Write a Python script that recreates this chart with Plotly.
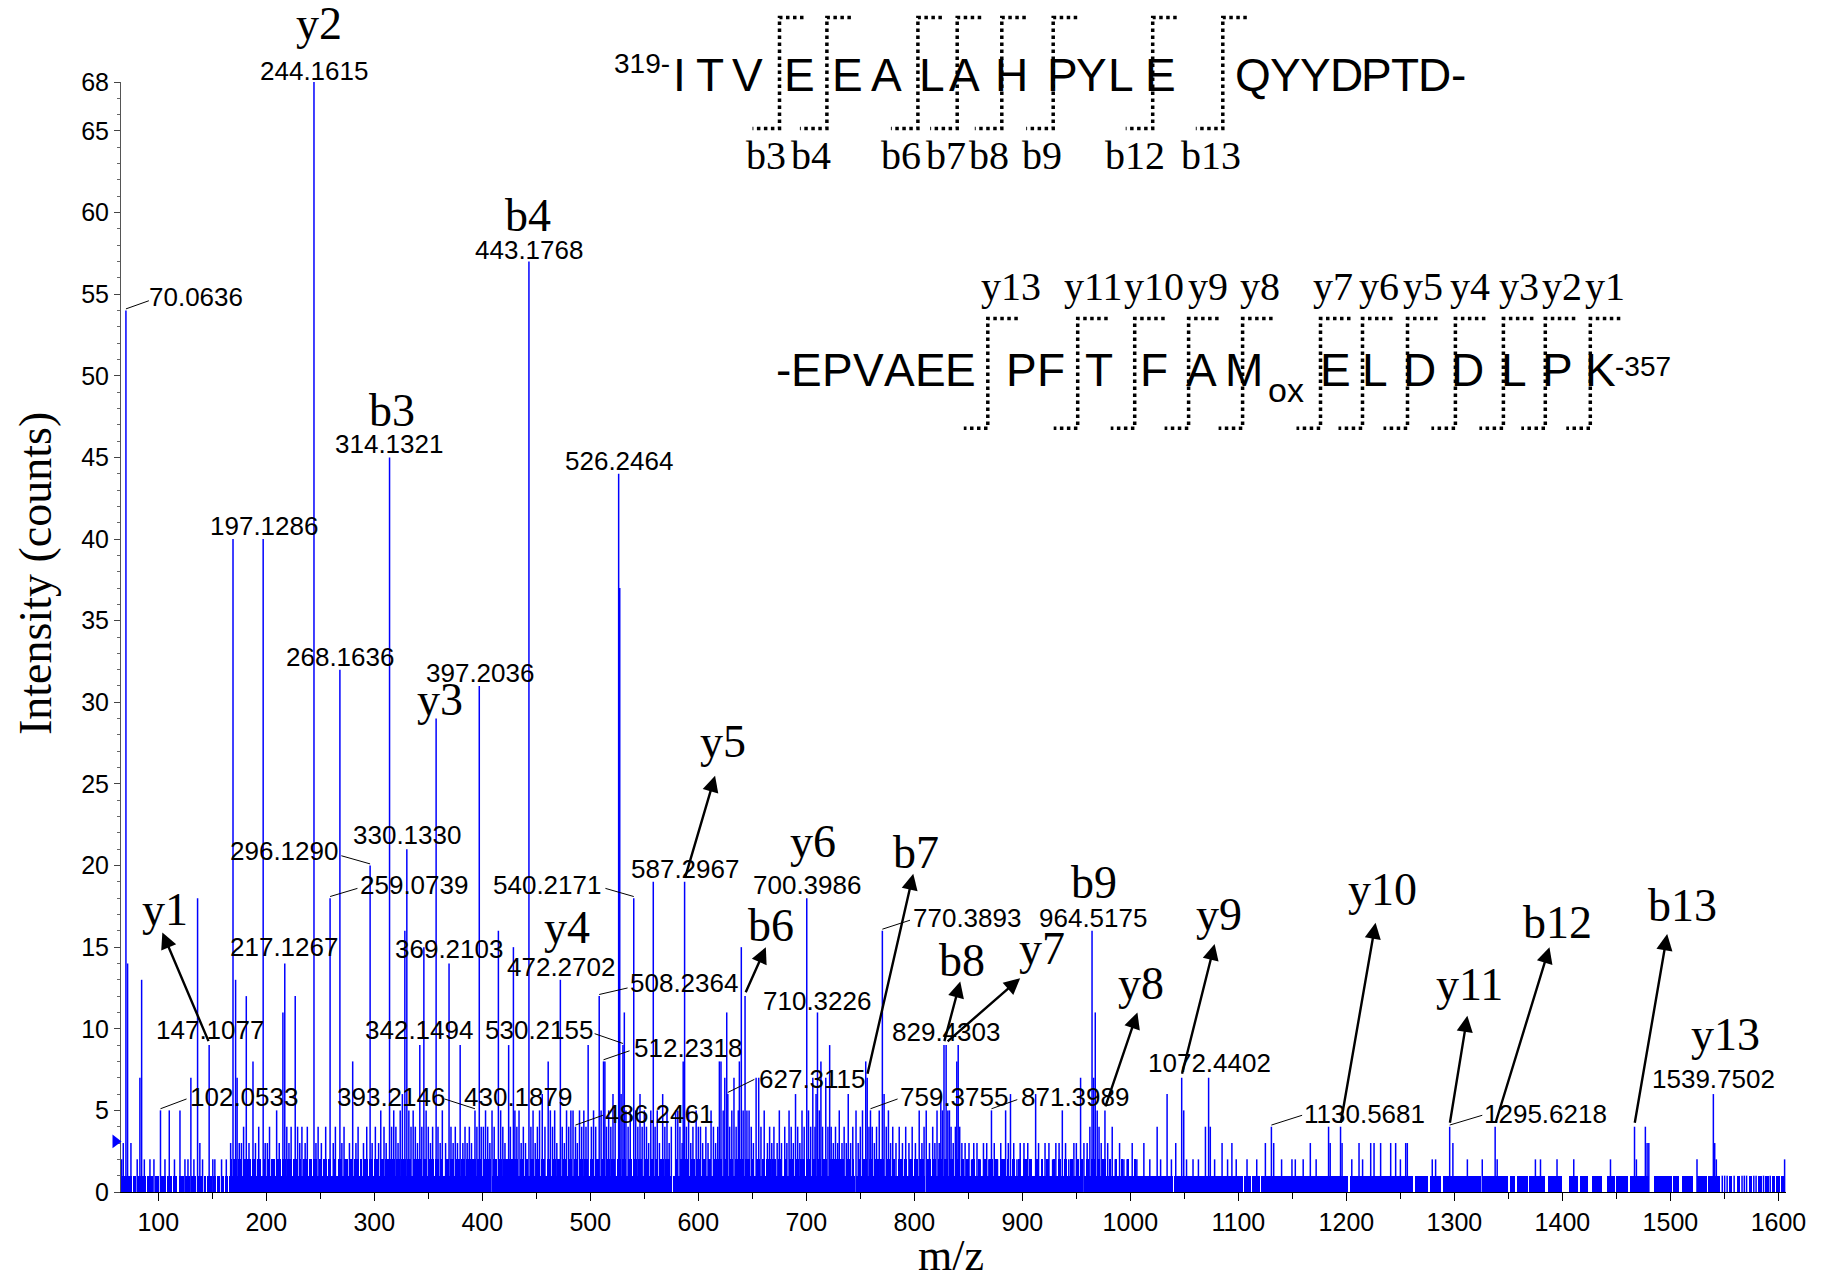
import plotly.graph_objects as go

# ---------------------------------------------------------------
# Centroided MS/MS peaks: (m/z, counts)
# ---------------------------------------------------------------
spectrum = [
    (66.1, 2), (67.6, 3), (70.0636, 54), (71.6, 14), (74.7, 3), (80.5, 2), (83.0, 7),
    (84.6, 13), (87.1, 2), (92.3, 2), (96.0, 2), (102.0533, 5), (106.2, 2), (110.2, 5),
    (115.0, 2), (120.1, 5), (124.7, 2), (127.5, 2), (130.2, 7), (133.0, 2), (136.4, 18),
    (138.5, 3), (141.0, 2), (147.1077, 9), (150.5, 2), (152.4, 2), (158.6, 2), (163.0, 2),
    (167.0, 3), (169.2, 40), (171.6, 13), (173.0, 7), (175.0, 3), (177.0, 3), (179.0, 4),
    (181.5, 12), (184.0, 3), (187.7, 8), (190.0, 3), (193.0, 4), (197.1286, 40), (199.0, 3),
    (201.0, 3), (203.0, 4), (209.6, 5), (212.0, 3), (215.4, 11), (217.1267, 14), (219.0, 4),
    (221.0, 3), (223.0, 4), (226.8, 12), (229.0, 4), (231.0, 3), (233.0, 4), (236.0, 3),
    (238.0, 4), (244.1615, 68), (246.0, 3), (248.0, 4), (251.0, 3), (255.0, 4), (259.0739, 18),
    (262.0, 3), (264.0, 4), (268.1636, 32), (270.0, 3), (272.0, 4), (277.0, 3), (280.0, 8),
    (283.0, 3), (285.0, 4), (290.0, 3), (293.0, 4), (296.1290, 20), (298.0, 3), (301.0, 4),
    (304.0, 3), (306.0, 5), (309.0, 4), (311.0, 3), (314.1321, 45), (316.0, 4), (318.0, 5),
    (320.0, 4), (322.0, 3), (324.0, 5), (326.0, 6), (328.3, 16), (330.1330, 21), (332.0, 5),
    (334.0, 4), (336.0, 5), (338.0, 4), (340.0, 3), (342.1494, 9), (344.0, 4), (345.9, 15),
    (348.0, 5), (350.0, 4), (352.0, 3), (354.0, 4), (357.25, 29), (359.0, 4), (361.0, 3),
    (363.0, 5), (366.0, 3), (369.2103, 14), (371.0, 4), (373.0, 3), (375.0, 4), (377.0, 3),
    (379.5, 9), (382.0, 3), (384.0, 4), (386.0, 3), (388.0, 4), (390.0, 3), (393.2146, 5),
    (395.0, 4), (397.2036, 31), (399.0, 4), (401.0, 4), (403.0, 5), (405.0, 4), (407.0, 3),
    (409.0, 5), (411.0, 4), (414.9, 16), (417.0, 5), (419.0, 4), (421.0, 3), (424.4, 9),
    (426.0, 4), (428.8, 15), (430.1879, 5), (432.0, 4), (434.0, 5), (436.0, 3), (438.0, 4),
    (440.0, 3), (443.1768, 57), (445.0, 4), (447.0, 5), (449.0, 3), (451.0, 4), (453.0, 5),
    (455.5, 6), (458.0, 4), (461.0, 8), (463.0, 5), (465.0, 4), (467.0, 5), (469.0, 3),
    (472.2702, 13), (474.0, 4), (476.0, 3), (478.0, 5), (480.0, 4), (482.0, 5), (484.0, 5),
    (486.2461, 4), (488.0, 3), (490.0, 5), (492.0, 4), (494.0, 5), (496.0, 4), (498.0, 9),
    (501.0, 4), (503.0, 5), (505.0, 4), (508.2364, 12), (510.0, 5), (512.2318, 8), (513.5, 8),
    (515.0, 4), (517.0, 5), (519.0, 4), (521.0, 6), (523.0, 5), (526.2464, 44), (527.25, 37),
    (528.5, 6), (530.2155, 9), (531.5, 11), (533.0, 5), (535.0, 4), (537.0, 5), (540.2171, 18),
    (542.0, 5), (544.0, 4), (546.0, 6), (548.0, 4), (550.0, 5), (552.0, 4), (554.0, 3),
    (556.0, 5), (558.3, 19), (560.0, 4), (562.0, 5), (564.0, 3), (567.0, 6), (569.0, 4),
    (571.0, 5), (573.0, 3), (575.0, 4), (579.0, 5), (581.0, 5), (583.0, 4), (585.0, 3),
    (586.0, 8), (587.2967, 19), (589.0, 4), (591.0, 5), (593.0, 3), (595.0, 4), (598.0, 5),
    (600.0, 4), (602.0, 4), (604.0, 3), (607.0, 4), (609.0, 3), (611.8, 5), (614.0, 4),
    (616.0, 3), (618.0, 4), (619.5, 8), (621.0, 8), (623.0, 5), (624.5, 7), (626.3, 11),
    (627.3115, 6), (629.0, 4), (631.0, 5), (633.0, 7), (635.0, 4), (637.0, 5), (638.0, 8),
    (639.8, 15), (641.5, 5), (643.26, 12), (645.0, 5), (647.0, 5), (649.0, 4), (651.0, 3),
    (653.5, 7), (655.9, 7), (658.0, 4), (661.0, 5), (664.0, 3), (666.0, 4), (668.0, 3),
    (670.0, 4), (673.0, 3), (675.0, 5), (677.0, 3), (680.0, 4), (682.0, 3), (684.0, 5),
    (686.0, 4), (688.0, 3), (690.0, 6), (692.0, 4), (694.0, 3), (696.0, 5), (698.0, 4),
    (700.3986, 18), (702.0, 5), (704.0, 4), (706.0, 7), (708.0, 4), (709.0, 6), (710.3226, 11),
    (712.0, 5), (713.5, 8), (715.0, 4), (718.0, 7), (720.0, 4), (721.6, 9), (723.0, 4),
    (725.0, 3), (727.0, 4), (729.0, 3), (730.5, 5), (733.0, 3), (735.0, 4), (737.0, 3),
    (738.8, 6), (741.0, 3), (743.0, 4), (746.0, 5), (748.0, 3), (750.0, 4), (752.0, 5),
    (755.0, 8), (756.35, 7), (758.0, 4), (759.3755, 5), (761.0, 4), (763.0, 3), (765.0, 4),
    (767.5, 5), (770.3893, 16), (772.0, 6), (774.0, 4), (776.0, 5), (778.0, 3), (780.0, 4),
    (783.0, 3), (786.0, 4), (789.0, 3), (792.0, 4), (795.0, 3), (798.0, 4), (801.0, 3),
    (804.5, 5), (807.0, 3), (809.0, 4), (811.0, 5), (814.0, 3), (817.0, 4), (819.0, 3),
    (821.0, 5), (823.0, 3), (824.5, 6), (826.0, 5), (827.45, 9), (829.4303, 9), (831.0, 5),
    (832.5, 5), (834.0, 4), (836.0, 3), (838.0, 4), (839.3, 8), (840.6, 9), (842.0, 4),
    (844.0, 3), (847.0, 3), (850.6, 3), (853.0, 2), (855.0, 3), (858.0, 3), (861.0, 2),
    (864.0, 3), (867.0, 3), (869.0, 2), (871.3989, 5), (874.0, 3), (877.0, 2), (880.0, 3),
    (884.5, 5), (887.0, 3), (889.0, 6), (892.0, 3), (895.0, 2), (898.0, 3), (901.5, 3),
    (905.0, 3), (908.0, 2), (912.3, 6), (915.0, 3), (918.0, 2), (921.0, 3), (924.6, 3),
    (928.0, 2), (931.0, 3), (934.0, 3), (937.0, 5), (940.0, 3), (943.0, 2), (947.7, 3),
    (950.0, 3), (953.9, 7), (957.0, 3), (960.0, 3), (962.5, 4), (964.5175, 16), (966.0, 7),
    (967.5, 11), (969.3, 5), (971.0, 4), (973.0, 3), (976.47, 5), (979.0, 3), (983.2, 4),
    (986.0, 2), (990.0, 3), (994.0, 2), (997.0, 2), (1001.7, 3), (1006.0, 2), (1012.5, 3),
    (1018.0, 2), (1024.8, 4), (1028.0, 2), (1034.0, 6), (1038.0, 2), (1042.0, 3), (1047.51, 7),
    (1049.4, 5), (1052.0, 2), (1058.0, 2), (1063.0, 2), (1069.5, 4), (1072.4402, 7), (1074.0, 4),
    (1078.0, 2), (1084.9, 3), (1090.0, 2), (1094.0, 3), (1098.0, 2), (1108.0, 2), (1117.0, 2),
    (1125.0, 3), (1130.5681, 4), (1132.7, 3), (1140.0, 2), (1149.6, 2), (1152.7, 2), (1160.0, 2),
    (1166.6, 3), (1172.0, 2), (1183.5, 4), (1185.0, 3), (1194.58, 4), (1196.0, 3), (1205.0, 2),
    (1211.7, 3), (1215.0, 2), (1222.5, 3), (1225.6, 3), (1231.7, 3), (1241.0, 3), (1245.6, 3),
    (1250.0, 2), (1254.9, 3), (1256.4, 3), (1279.5, 2), (1282.6, 2), (1295.6218, 4), (1298.6, 3),
    (1312.0, 2), (1325.8, 2), (1337.72, 4), (1339.6, 2), (1375.0, 2), (1379.7, 2), (1395.0, 2),
    (1410.5, 2), (1444.5, 2), (1466.76, 4), (1468.5, 2), (1476.8, 4), (1478.4, 3), (1480.0, 3),
    (1524.6, 2), (1539.7502, 6), (1541.0, 3), (1542.5, 2), (1605.7, 2),
]

# isolated single-count peaks at the high-mass end
single_count_mz = [1548.0, 1550.2, 1552.5, 1559.0, 1566.3, 1568.4, 1570.5, 1577.2,
                   1579.3, 1586.2, 1592.4]

# m/z stretches where the baseline noise fills the 1-count level
noise_floor_1 = [
    (65.6, 75.5), (76.5, 79.0), (80.0, 88.5), (89.5, 95.5), (96.8, 101.0), (102.3, 107.0),
    (108.0, 112.5), (113.5, 117.8), (119.0, 123.5), (124.5, 129.5), (130.5, 135.0),
    (136.0, 140.5), (142.0, 144.5), (145.5, 150.0), (151.0, 153.0), (154.5, 157.0),
    (158.0, 161.0), (162.0, 164.5), (165.5, 215.0), (216.0, 300.0), (301.0, 408.0),
    (409.0, 576.0), (577.0, 660.0), (661.0, 745.0), (746.0, 810.0), (811.0, 956.5),
    (957.5, 1039.8), (1040.6, 1104.0), (1105.0, 1112.0), (1113.0, 1120.0), (1121.0, 1201.5),
    (1203.0, 1262.0), (1263.5, 1275.5), (1277.0, 1288.0), (1289.5, 1325.0), (1326.5, 1350.0),
    (1351.5, 1356.0), (1357.5, 1368.0), (1369.5, 1384.0), (1387.0, 1399.5), (1406.0, 1414.5),
    (1416.0, 1424.0), (1427.5, 1436.5), (1441.0, 1448.5), (1450.0, 1461.0), (1462.5, 1480.0),
    (1484.5, 1501.0), (1502.5, 1507.5), (1511.0, 1521.0), (1525.0, 1533.5), (1535.0, 1546.0),
    (1554.0, 1557.0), (1561.5, 1564.5), (1572.5, 1575.5), (1581.5, 1584.5), (1588.0, 1590.8),
    (1594.0, 1596.8), (1597.5, 1601.5), (1602.0, 1606.0),
]

# m/z stretches where the noise reaches 2 counts
noise_floor_2 = [
    (166.0, 168.5), (169.5, 173.0), (174.0, 176.5), (178.0, 181.0), (182.5, 186.0), (187.0, 189.5),
    (191.0, 195.5), (196.5, 199.0), (200.5, 203.0), (204.5, 208.0), (209.0, 213.5), (215.0, 218.0),
    (219.5, 224.0), (225.0, 228.5), (230.0, 232.5), (234.0, 238.5), (239.5, 242.0), (243.5, 247.0),
    (248.5, 251.0), (252.5, 256.5), (257.5, 260.0), (261.5, 265.0), (266.0, 270.5), (272.0, 275.5),
    (277.0, 280.0), (281.5, 285.5), (286.5, 289.0), (290.5, 294.5), (295.5, 299.0), (300.0, 304.5),
    (305.5, 309.0), (310.0, 313.5), (315.0, 319.5), (320.5, 324.0), (325.0, 329.5), (330.5, 334.0),
    (335.5, 339.5), (340.5, 344.5), (345.5, 349.0), (350.5, 355.0), (356.0, 359.5), (360.5, 364.0),
    (365.5, 369.5), (370.5, 373.5), (375.0, 379.0), (380.5, 384.0), (385.0, 389.5), (390.5, 394.0),
    (395.0, 399.5), (400.5, 404.5), (405.5, 408.0), (409.5, 413.5), (414.5, 418.0), (419.5, 423.5),
    (424.5, 428.5), (429.5, 433.0), (434.5, 438.5), (439.5, 442.5), (444.0, 448.0), (449.5, 452.5),
    (454.0, 458.5), (459.5, 463.0), (464.5, 468.5), (469.5, 473.0), (474.5, 478.0), (479.5, 483.5),
    (484.5, 488.0), (489.5, 493.5), (494.5, 498.0), (499.5, 503.5), (504.5, 508.0), (509.5, 513.5),
    (515.0, 518.5), (519.5, 523.0), (524.5, 528.5), (529.5, 533.0), (534.5, 538.5), (539.5, 543.0),
    (544.5, 548.0), (549.5, 553.5), (555.0, 558.5), (559.5, 563.0), (564.5, 568.5), (569.5, 573.5),
    (578.0, 581.5), (583.0, 586.5), (588.0, 591.5), (593.0, 596.5), (598.0, 601.5), (603.0, 607.5),
    (608.5, 612.0), (613.5, 617.5), (618.5, 622.0), (623.5, 627.5), (628.5, 632.0), (633.5, 637.5),
    (638.5, 642.0), (643.5, 647.5), (648.5, 652.0), (653.5, 657.5), (659.0, 661.5), (663.0, 667.0),
    (668.5, 672.0), (673.5, 677.5), (679.0, 682.5), (684.0, 688.0), (689.5, 693.0), (694.5, 698.5),
    (700.0, 703.5), (705.0, 709.0), (710.5, 714.0), (715.5, 719.5), (721.0, 724.5), (726.0, 730.0),
    (731.5, 735.0), (736.5, 740.5), (742.0, 744.5), (747.5, 751.0), (752.5, 756.5), (758.0, 761.5),
    (763.0, 767.0), (768.5, 772.0), (773.5, 777.0), (779.0, 782.0), (785.0, 788.5), (790.0, 793.0),
    (795.0, 798.5), (800.0, 803.0), (805.0, 808.5), (812.0, 815.5), (817.0, 820.5), (822.0, 826.0),
    (827.5, 831.0), (832.5, 836.5), (838.0, 841.5), (843.0, 846.0), (848.0, 851.0), (853.0, 856.0),
    (858.5, 861.0), (864.0, 867.0), (869.5, 872.5), (875.0, 877.5), (880.0, 883.5), (885.5, 888.0),
    (890.5, 893.5), (896.0, 898.5), (901.0, 904.0), (906.5, 909.0), (911.5, 914.5), (917.0, 919.5),
    (922.0, 925.0), (928.0, 930.5), (933.0, 936.0), (939.0, 941.5), (944.0, 947.0), (950.0, 952.5),
    (955.0, 956.5), (958.5, 962.0), (963.5, 967.0), (969.0, 971.5), (974.0, 977.0), (980.0, 982.5),
    (985.5, 988.0), (991.0, 993.5), (997.0, 999.0), (1003.0, 1005.0),
]

# peaks annotated with their m/z: (peak m/z, label centre m/z, label centre counts)
value_labels = [
    (244.1615, 244.5, 68.7), (443.1768, 443.2, 57.7), (314.1321, 313.2, 45.8),
    (70.0636, 135.0, 54.8), (197.1286, 197.5, 40.8), (526.2464, 526.2, 44.8),
    (268.1636, 268.2, 32.8), (397.2036, 397.5, 31.8), (330.1330, 330.0, 21.9),
    (296.1290, 216.7, 20.9), (259.0739, 336.5, 18.8), (540.2171, 460.0, 18.8),
    (587.2967, 587.4, 19.8), (700.3986, 700.9, 18.8), (217.1267, 216.7, 15.0),
    (369.2103, 369.5, 14.9), (472.2702, 472.9, 13.8), (508.2364, 586.8, 12.8),
    (710.3226, 709.5, 11.7), (147.1077, 147.5, 9.95), (342.1494, 341.5, 9.95),
    (530.2155, 452.5, 9.95), (512.2318, 590.5, 8.8), (829.4303, 829.5, 9.8),
    (1072.4402, 1073.2, 7.9), (627.3115, 705.5, 6.95), (102.0533, 179.5, 5.85),
    (393.2146, 315.5, 5.85), (430.1879, 433.0, 5.85), (759.3755, 837.0, 5.85),
    (871.3989, 949.0, 5.85), (486.2461, 563.3, 4.8), (1130.5681, 1217.0, 4.8),
    (1295.6218, 1384.0, 4.8), (964.5175, 965.6, 16.8), (770.3893, 849.0, 16.8),
    (1539.7502, 1540.0, 6.95),
]

# leader lines from an offset label back to its peak: peak m/z -> (start m/z, start counts)
leaders = {
    70.0636: (91.3, 54.6), 296.1290: (269.5, 20.6), 259.0739: (284.4, 18.6),
    540.2171: (514.0, 18.6), 508.2364: (534.5, 12.5), 530.2155: (504.0, 9.7),
    512.2318: (536.3, 8.65), 627.3115: (651.9, 6.9), 102.0533: (126.2, 5.7),
    393.2146: (365.0, 5.7), 486.2461: (511.7, 4.7), 759.3755: (784.5, 5.7),
    871.3989: (895.3, 5.66), 770.3893: (796.0, 16.65), 1130.5681: (1159.0, 4.7),
    1295.6218: (1325.8, 4.7),
}

# fragment ion assignments: (ion, peak m/z, label centre m/z, label centre counts)
ion_labels = [
    ("y2", 244.1615, 248.9, 71.3), ("b4", 443.1768, 442.0, 59.8), ("b3", 314.1321, 316.0, 47.9),
    ("y3", 357.25, 361.0, 29.9), ("y1", 147.1077, 106.3, 17.0), ("y4", 472.2702, 478.0, 15.9),
    ("y5", 587.2967, 623.0, 27.3), ("y6", 700.3986, 706.4, 21.2), ("b7", 756.35, 801.4, 20.8),
    ("b6", 643.26, 667.7, 16.3), ("b8", 827.45, 844.0, 14.2), ("y7", 829.4303, 918.4, 14.6),
    ("b9", 964.5175, 966.3, 18.95), ("y8", 976.47, 1009.6, 12.5), ("y9", 1047.51, 1082.4, 16.7),
    ("y10", 1194.58, 1233.3, 18.25), ("y11", 1295.6218, 1314.2, 12.4),
    ("b12", 1337.72, 1395.0, 16.5), ("b13", 1466.76, 1511.5, 17.55),
    ("y13", 1539.7502, 1551.0, 9.35),
]
# arrow tips for ions whose label sits away from the peak
ion_arrow_tips = {
    "y1": (103.8, 15.9), "y5": (615.5, 25.5), "b6": (662.5, 15.0), "b7": (799.0, 19.5),
    "b8": (842.5, 12.9), "y7": (898.0, 13.1), "y8": (1006.5, 11.0), "y9": (1078.0, 15.2),
    "y10": (1227.0, 16.5), "y11": (1312.0, 10.8), "b12": (1388.0, 15.0), "b13": (1497.0, 15.8),
}

threshold_counts = 3.1

X_RANGE = [65.5, 1607]
Y_RANGE = [0, 68]
x_ticks = list(range(100, 1700, 100))
y_ticks = list(range(0, 70, 5)) + [68]

# ---------------------------------------------------------------
# Layout geometry (pixels) used to place the sequence diagram
# ---------------------------------------------------------------
W, H = 1830, 1282
M_L, M_R, M_T, M_B = 121, 44, 82, 90
PW, PH = W - M_L - M_R, H - M_T - M_B


def px(X):
    return (X - M_L) / PW


def py(Y):
    return (H - M_B - Y) / PH


BLUE = "#0000ff"
SANS = "Liberation Sans, Arial, sans-serif"
SERIF = "Liberation Serif, Times New Roman, serif"

fig = go.Figure()

# baseline noise bands
for level, segs in ((1, noise_floor_1), (2, noise_floor_2)):
    fig.add_trace(go.Bar(
        x=[(a + b) / 2 for a, b in segs], y=[level] * len(segs),
        width=[b - a for a, b in segs],
        marker=dict(color=BLUE, line=dict(width=0)), hoverinfo="skip",
    ))

# stick spectrum
stick_x, stick_y = [], []
for mz, c in spectrum + [(m, 1) for m in single_count_mz]:
    stick_x += [mz, mz, None]
    stick_y += [0, c, None]
fig.add_trace(go.Scatter(x=stick_x, y=stick_y, mode="lines",
                         line=dict(color=BLUE, width=1.5), hoverinfo="skip"))

height_of = dict(spectrum)
annotations = []
shapes = []


def data_text(x, y, txt, family, size):
    # labels above the top of the intensity axis are placed against the paper
    if y > Y_RANGE[1]:
        yref, yv = "paper", y / Y_RANGE[1]
    else:
        yref, yv = "y", y
    annotations.append(dict(x=x, y=yv, xref="x", yref=yref, text=txt, showarrow=False,
                            font=dict(family=family, size=size, color="black"),
                            xanchor="center", yanchor="middle"))


# m/z value labels
for mz, lx, ly in value_labels:
    data_text(lx, ly, f"{mz:.4f}", SANS, 26)
for mz, (sx, sy) in leaders.items():
    shapes.append(dict(type="line", xref="x", yref="y", x0=sx, y0=sy,
                       x1=mz, y1=height_of[mz] + 0.1, line=dict(color="black", width=1)))

# fragment ion labels and arrows
for ion, mz, lx, ly in ion_labels:
    shift = 0.3 if ion.startswith("y") else 0.0
    data_text(lx, ly + shift, ion, SERIF, 46)
    if ion in ion_arrow_tips:
        tx, ty = ion_arrow_tips[ion]
        annotations.append(dict(x=tx, y=ty, xref="x", yref="y", ax=mz, ay=height_of[mz] + 0.15,
                                axref="x", ayref="y", text="", showarrow=True,
                                arrowhead=2, arrowsize=1.35, arrowwidth=2.4, arrowcolor="black",
                                standoff=0, startstandoff=0))

# threshold marker on the intensity axis
shapes.append(dict(type="path", xref="paper", yref="y", fillcolor=BLUE, line=dict(width=0),
                   path=f"M {px(112.5)},{threshold_counts + 0.42} L {px(121.5)},{threshold_counts} "
                        f"L {px(112.5)},{threshold_counts - 0.42} Z"))

# ---------------------------------------------------------------
# Peptide sequence with fragment cleavage brackets
# ---------------------------------------------------------------
seq_top = [("I", 679), ("T", 710), ("V", 747), ("E", 799), ("E", 847), ("A", 886),
           ("L", 932), ("A", 964), ("H", 1011), ("P", 1062), ("Y", 1091), ("L", 1121),
           ("E", 1160), ("Q", 1253), ("Y", 1285), ("Y", 1315), ("D", 1346), ("P", 1376),
           ("T", 1405), ("D", 1434), ("-", 1458)]
seq_bottom = [("-", 783), ("E", 806), ("P", 837), ("V", 868), ("A", 899), ("E", 930),
              ("E", 961), ("P", 1021), ("F", 1051), ("T", 1099), ("F", 1154), ("A", 1201),
              ("M", 1244), ("E", 1335), ("L", 1375), ("D", 1419), ("D", 1467), ("L", 1514),
              ("P", 1557), ("K", 1600)]
b_cuts = [("b3", 779.5, 766), ("b4", 826.9, 810.6), ("b6", 917.9, 901.2), ("b7", 957.2, 945.8),
          ("b8", 1001.8, 989), ("b9", 1053.2, 1042.2), ("b12", 1152.7, 1134.5),
          ("b13", 1222.8, 1210.5)]
y_cuts = [("y13", 987.8, 1011), ("y11", 1077.7, 1093), ("y10", 1134.7, 1153.5),
          ("y9", 1188.6, 1208.3), ("y8", 1242.6, 1260.3), ("y7", 1320.5, 1333),
          ("y6", 1362.5, 1378.5), ("y5", 1407.5, 1422.8), ("y4", 1455.4, 1470.2),
          ("y3", 1503.4, 1518.7), ("y2", 1545.3, 1562.4), ("y1", 1590.3, 1605)]

ROW1_Y, ROW2_Y = 74.7, 370.0
LETTER_SIZE = 46


def text_px(X, Y, txt, family, size, anchor="center"):
    annotations.append(dict(x=px(X), y=py(Y), xref="paper", yref="paper", text=txt,
                            showarrow=False, font=dict(family=family, size=size, color="black"),
                            xanchor=anchor, yanchor="middle"))


def bracket(xv, top, bottom, right, left):
    path = (f"M {px(xv + right)},{py(top)} L {px(xv)},{py(top)} "
            f"L {px(xv)},{py(bottom)} L {px(xv - left)},{py(bottom)}")
    shapes.append(dict(type="path", xref="paper", yref="paper", path=path,
                       line=dict(color="black", width=3.5, dash="dot")))


text_px(672, 63.5, "319-", SANS, 28, anchor="right")
for ch, X in seq_top:
    text_px(X, ROW1_Y, ch, SANS, LETTER_SIZE)
for name, xv, lx in b_cuts:
    bracket(xv, 17.5, 128.4, 24, 27)
    text_px(lx, 155.2, name, SERIF, 40)

for ch, X in seq_bottom:
    text_px(X, ROW2_Y, ch, SANS, LETTER_SIZE)
text_px(1286, 390, "ox", SANS, 34)
text_px(1613, 366, "-357", SANS, 28, anchor="left")
for name, xv, lx in y_cuts:
    bracket(xv, 318.6, 428.3, 30, 24)
    text_px(lx, 286.0, name, SERIF, 40)

# axis titles
text_px(951, 1255, "m/z", SERIF, 44)
annotations.append(dict(x=px(35), y=py(574), xref="paper", yref="paper",
                        text="Intensity (counts)", textangle=-90, showarrow=False,
                        font=dict(family=SERIF, size=46, color="black"),
                        xanchor="center", yanchor="middle"))

fig.update_layout(
    width=W, height=H,
    margin=dict(l=M_L, r=M_R, t=M_T, b=M_B, pad=0),
    paper_bgcolor="white", plot_bgcolor="white",
    showlegend=False, bargap=0,
    annotations=annotations, shapes=shapes,
    xaxis=dict(
        range=X_RANGE, tickmode="array", tickvals=x_ticks,
        ticks="outside", ticklen=8, tickwidth=1, tickcolor="black",
        showline=True, linecolor="black", linewidth=1,
        showgrid=False, zeroline=False,
        tickfont=dict(family=SANS, size=25, color="black"),
        minor=dict(tickmode="linear", tick0=50, dtick=100, ticks="outside",
                   ticklen=6, tickcolor="black", showgrid=False),
    ),
    yaxis=dict(
        range=Y_RANGE, tickmode="array", tickvals=y_ticks,
        ticks="outside", ticklen=6, tickwidth=1, tickcolor="#444",
        showline=True, linecolor="#555", linewidth=1,
        showgrid=False, zeroline=False,
        tickfont=dict(family=SANS, size=25, color="black"),
        minor=dict(tickmode="linear", tick0=0, dtick=1, ticks="outside",
                   ticklen=3.5, tickcolor="#666", showgrid=False),
    ),
)

fig.write_html("out.html")
